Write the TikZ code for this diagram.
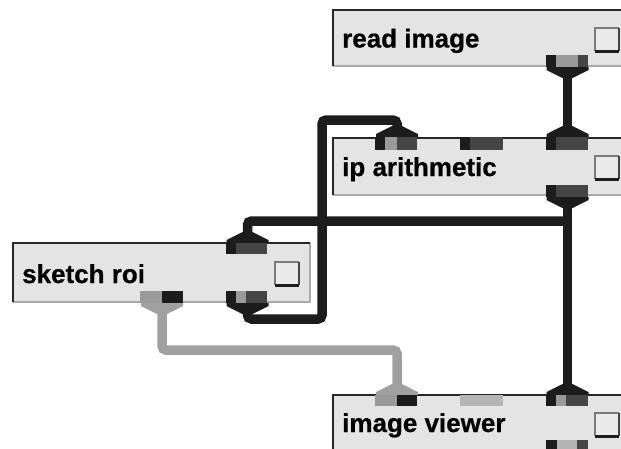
\documentclass[tikz,border=0pt]{standalone}
\usepackage{fontspec}
\setmainfont{Liberation Sans}[BoldFeatures={FakeBold=0.6}]

\definecolor{wireblack}{HTML}{1C1C1C}
\definecolor{wiregrey}{HTML}{A0A0A0}
\definecolor{boxfill}{HTML}{E4E4E4}
\definecolor{edgedark}{HTML}{262626}
\definecolor{edgelight}{HTML}{A8A8A8}
\definecolor{portdark}{HTML}{1C1C1C}
\definecolor{portmid}{HTML}{454545}
\definecolor{portgrey}{HTML}{9A9A9A}
\definecolor{portlight}{HTML}{B4B4B4}
\definecolor{chkfill}{HTML}{EAEAEA}
\definecolor{chkgrey}{HTML}{7A7A7A}
\definecolor{chkdark}{HTML}{444444}

% bevelled module frame: dark top/left, light bottom/right
\newcommand\moduleedges[1]{%
  \draw[edgelight, line width=2pt] (#1.south west) -- (#1.south east) -- (#1.north east);
  \draw[edgedark, line width=2pt] (#1.south west) -- (#1.north west) -- (#1.north east);}
% sunken toggle square
\newcommand\toggleedges[1]{%
  \draw[chkgrey, line width=1.8pt] (#1.south west) -- (#1.north west) -- (#1.north east);
  \draw[chkdark, line width=2.5pt] (#1.north east) -- (#1.south east);
  \draw[wireblack, line width=3pt] (#1.south west) -- (#1.south east);}
% flared wire end below an outlet (#1 = centre x, #2 = outlet bottom, #3 = colour)
\newcommand\footdown[3]{%
  \fill[#3] (#1-21,#2) -- (#1+21,#2) -- (#1+21,#2+3) -- (#1+5,#2+11)
    -- (#1-5,#2+11) -- (#1-21,#2+3) -- cycle;}
% flared wire end above an inlet (#1 = centre x, #2 = inlet top, #3 = colour)
\newcommand\footup[3]{%
  \fill[#3] (#1-21,#2) -- (#1+21,#2) -- (#1+21,#2-3) -- (#1+5,#2-11)
    -- (#1-5,#2-11) -- (#1-21,#2-3) -- cycle;}

\begin{document}
\begin{tikzpicture}[x=1pt,y=-1pt,
  wire/.style={line width=9.5pt, draw=wireblack, rounded corners=4pt},
  greywire/.style={wire, draw=wiregrey},
  modbox/.style={rectangle, fill=boxfill, inner sep=0pt, outer sep=0pt, anchor=north west},
  boxtext/.style={anchor=base west, inner sep=0pt, font=\fontsize{26}{26}\selectfont\bfseries},
  toggle/.style={rectangle, fill=chkfill, inner sep=0pt, outer sep=0pt, anchor=north west,
    minimum width=24pt, minimum height=23pt},
]
\useasboundingbox (0,0) rectangle (621,448);
\clip (0,0) rectangle (621,448);
\fill[white] (0,0) rectangle (621,448);

% modules
\node[modbox, minimum width=300pt, minimum height=56pt] (ri) at (333,10) {};
\node[modbox, minimum width=300pt, minimum height=57pt] (ip) at (333,138) {};
\node[modbox, minimum width=297pt, minimum height=59pt] (sr) at (13,243) {};
\node[modbox, minimum width=300pt, minimum height=60pt] (iv) at (333,395) {};
\moduleedges{ri}\moduleedges{ip}\moduleedges{sr}\moduleedges{iv}

\node[boxtext] (riText) at (342,47.5) {read image};
\node[boxtext] (ipText) at (342,176) {ip arithmetic};
\node[boxtext] (srText) at (22,283) {sketch roi};
\node[boxtext] (ivText) at (342,432) {image viewer};

\node[toggle] (riTog) at (595,28) {};
\node[toggle] (ipTog) at (595,156) {};
\node[toggle] (srTog) at (275,262) {};
\node[toggle] (ivTog) at (595,413) {};
\toggleedges{riTog}\toggleedges{ipTog}\toggleedges{srTog}\toggleedges{ivTog}

% port ends of the wires
\coordinate (riOut) at (567.5,67);
\coordinate (ipIn1) at (397,137);
\coordinate (ipIn3) at (567.5,137);
\coordinate (ipOut) at (567.5,197);
\coordinate (split) at (567.5,221);
\coordinate (srIn) at (247.5,243);
\coordinate (srOutB) at (247.5,303);
\coordinate (srOutA) at (162,303);
\coordinate (ivIn1) at (397,395);
\coordinate (ivIn3) at (567.5,395);

% wires
\draw[greywire] (srOutA) |- (397,350) -- (ivIn1);
\draw[wire] (riOut) -- (ipIn3);
\draw[wire] (ipOut) -- (ivIn3);
\draw[wire] (split) -| (srIn);
\draw[wire] (srOutB) |- (322,319) |- (397,120) -- (ipIn1);

% flared wire ends
\footdown{567.5}{67}{wireblack}
\footdown{567.5}{197}{wireblack}
\footdown{247.5}{303}{wireblack}
\footdown{162}{303}{wiregrey}
\footup{397}{137}{wireblack}
\footup{567.5}{137}{wireblack}
\footup{247.5}{243}{wireblack}
\footup{397}{395}{wiregrey}
\footup{567.5}{395}{wireblack}

% read image outlet
\fill[portdark] (546,55) rectangle (556,67);
\fill[portgrey] (556,55) rectangle (578,67);
\fill[portmid] (578,55) rectangle (588,67);
% ip arithmetic inlets
\fill[portdark] (375,137) rectangle (385,150);
\fill[portgrey] (385,137) rectangle (397,150);
\fill[portmid] (397,137) rectangle (417,150);
\fill[portdark] (460,137) rectangle (470,150);
\fill[portmid] (470,137) rectangle (503,150);
\fill[portdark] (546,137) rectangle (556,150);
\fill[portmid] (556,137) rectangle (588,150);
% ip arithmetic outlet
\fill[portdark] (546,185) rectangle (556,197);
\fill[portmid] (556,185) rectangle (588,197);
% sketch roi inlet
\fill[portdark] (226,243) rectangle (236,254);
\fill[portmid] (236,243) rectangle (267,254);
% sketch roi outlets
\fill[portgrey] (140,291) rectangle (162,303);
\fill[portdark] (162,291) rectangle (183,303);
\fill[portdark] (226,291) rectangle (236,303);
\fill[portgrey] (236,291) rectangle (246,303);
\fill[portmid] (246,291) rectangle (267,303);
% image viewer inlets
\fill[portgrey] (375,395) rectangle (397,406);
\fill[portdark] (397,395) rectangle (417,406);
\fill[portlight] (460,395) rectangle (503,406);
\fill[portdark] (546,395) rectangle (556,406);
\fill[portgrey] (556,395) rectangle (566,406);
\fill[portmid] (566,395) rectangle (588,406);
% image viewer outlet
\fill[portdark] (546,440) rectangle (557,452);
\fill[portlight] (557,440) rectangle (577,452);
\fill[portmid] (577,440) rectangle (588,452);
\end{tikzpicture}
\end{document}
